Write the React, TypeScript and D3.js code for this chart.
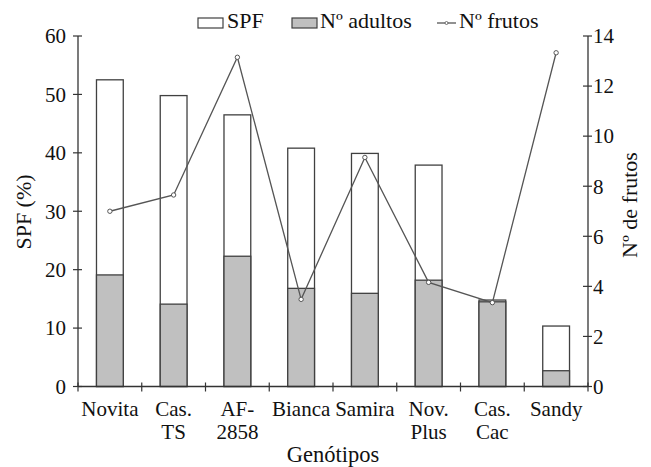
import React from "react";
import * as d3 from "d3";

const categories = ["Novita", "Cas.\nTS", "AF-\n2858", "Bianca", "Samira", "Nov.\nPlus", "Cas.\nCac", "Sandy"];
const spf = [52.5, 49.8, 46.5, 40.8, 39.9, 37.9, 14.8, 10.35];
const adultos = [19.1, 14.1, 22.3, 16.8, 15.95, 18.2, 14.5, 2.7];
const frutos = [7.0, 7.65, 13.15, 3.48, 9.15, 4.16, 3.35, 13.33];
const leftTicks = [0, 10, 20, 30, 40, 50, 60];
const rightTicks = [0, 2, 4, 6, 8, 10, 12, 14];

const W = 651, H = 467;
const M = { left: 78, right: 588, top: 36, bottom: 386.5 };
const AX = "#333";
const FF = "Liberation Serif";

export default function App() {
  const x = d3.scaleBand<string>().domain(categories).range([M.left, M.right]).padding(0);
  const yL = d3.scaleLinear().domain([0, 60]).range([M.bottom, M.top]);
  const yR = d3.scaleLinear().domain([0, 14]).range([M.bottom, M.top]);
  const bw = x.bandwidth() * 0.42;
  const cx = (c: string) => (x(c) as number) + x.bandwidth() / 2;
  const line = d3.line<number>().x((_, i) => cx(categories[i])).y((d) => yR(d));
  const boundaries = categories.map((c) => x(c) as number).concat([M.right]);

  const T = (props: any) => (
    <text fontFamily={FF} style={{ fontFamily: `"${FF}"` }} fontSize={21} fill="#111" {...props} />
  );

  return (
    <svg width={W} height={H} style={{ display: "block", margin: "-8px 0 0 -8px" }}>
      <style>{`text, tspan { font-family: "Liberation Serif", serif; }`}</style>
      <rect width={W} height={H} fill="#fff" />
      {categories.map((c, i) => (
        <g key={c}>
          <rect x={cx(c) - bw / 2} y={yL(spf[i])} width={bw} height={yL(0) - yL(spf[i])} fill="#fff" stroke="#404040" strokeWidth={1.3} />
          <rect x={cx(c) - bw / 2} y={yL(adultos[i])} width={bw} height={yL(0) - yL(adultos[i])} fill="#c0c0c0" stroke="#404040" strokeWidth={1.3} />
        </g>
      ))}
      <path d={line(frutos) as string} fill="none" stroke="#555" strokeWidth={1.3} />
      {frutos.map((v, i) => (
        <circle key={i} cx={cx(categories[i])} cy={yR(v)} r={2.2} fill="#fff" stroke="#555" strokeWidth={1} />
      ))}
      <line x1={M.left} x2={M.left} y1={M.top} y2={M.bottom} stroke={AX} strokeWidth={1.3} />
      <line x1={M.right} x2={M.right} y1={M.top} y2={M.bottom} stroke={AX} strokeWidth={1.3} />
      <line x1={M.left} x2={M.right} y1={M.bottom} y2={M.bottom} stroke={AX} strokeWidth={1.3} />
      {leftTicks.map((t) => (
        <g key={"l" + t}>
          <line x1={M.left - 5} x2={M.left + 4} y1={yL(t)} y2={yL(t)} stroke={AX} strokeWidth={1.2} />
          <T x={M.left - 12} y={yL(t)} dy="0.35em" textAnchor="end">{t}</T>
        </g>
      ))}
      {rightTicks.map((t) => (
        <g key={"r" + t}>
          <line x1={M.right - 5} x2={M.right + 4} y1={yR(t)} y2={yR(t)} stroke={AX} strokeWidth={1.2} />
          <T x={M.right + 5} y={yR(t)} dy="0.35em" textAnchor="start">{t}</T>
        </g>
      ))}
      {boundaries.map((b, i) => (
        <line key={"b" + i} x1={b} x2={b} y1={M.bottom - 4} y2={M.bottom + 5} stroke={AX} strokeWidth={1.2} />
      ))}
      {categories.map((c) => (
        <T key={"t" + c} x={cx(c)} y={415.5} textAnchor="middle">
          {c.split("\n").map((s, j) => (
            <tspan key={j} x={cx(c)} dy={j === 0 ? 0 : 23}>{s}</tspan>
          ))}
        </T>
      ))}
      <T x={(M.left + M.right) / 2} y={462} textAnchor="middle" fontSize={22.5}>Genótipos</T>
      <T transform={`translate(31,212) rotate(-90)`} textAnchor="middle" fontSize={22}>SPF (%)</T>
      <T transform={`translate(637,205) rotate(-90)`} textAnchor="middle" fontSize={22}>Nº de frutos</T>
      <rect x={198} y={18} width={25} height={10} fill="#fff" stroke="#404040" strokeWidth={1.2} />
      <T x={227} y={28} fontSize={22}>SPF</T>
      <rect x={292} y={18} width={25} height={10} fill="#c0c0c0" stroke="#404040" strokeWidth={1.2} />
      <T x={320} y={28} fontSize={22}>Nº adultos</T>
      <line x1={437} x2={456} y1={23} y2={23} stroke="#555" strokeWidth={1.3} />
      <circle cx={446.5} cy={23} r={1.5} fill="#fff" stroke="#555" strokeWidth={0.8} />
      <T x={459} y={28} fontSize={22}>Nº frutos</T>
    </svg>
  );
}
